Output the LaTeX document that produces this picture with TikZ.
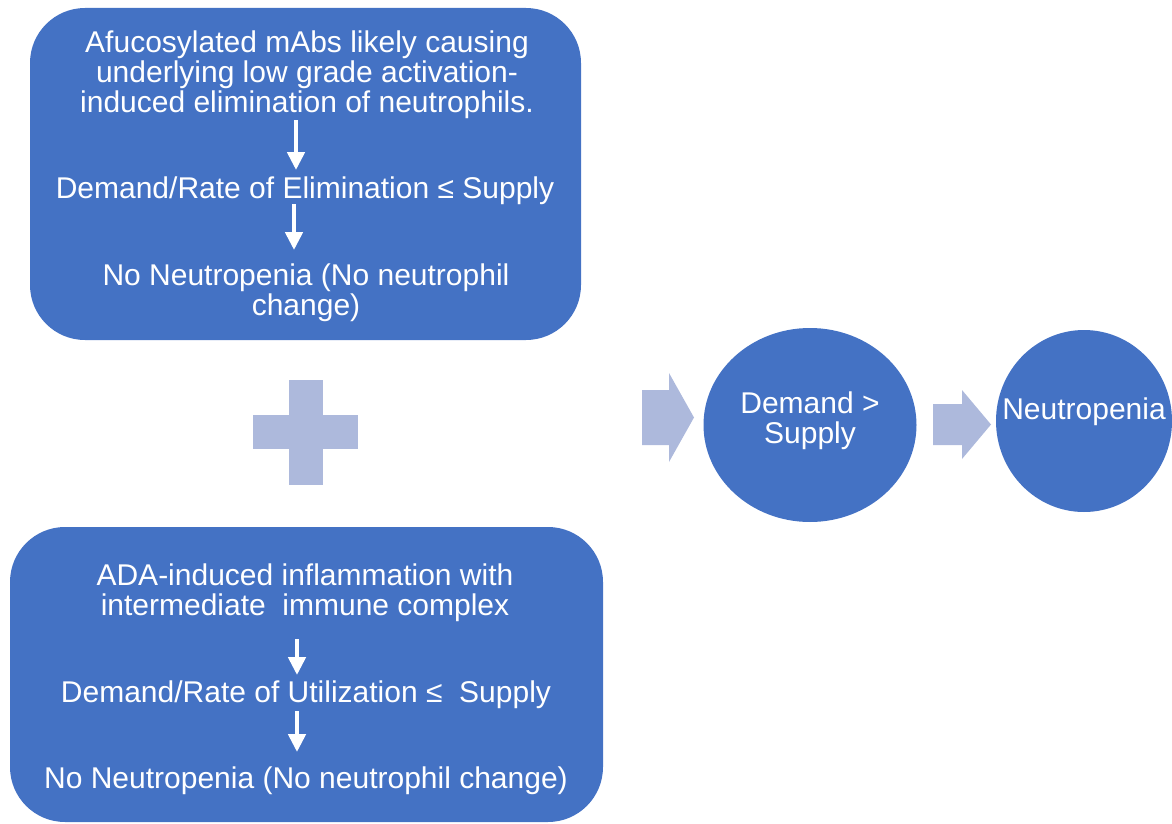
\documentclass[tikz,border=0pt]{standalone}
\usepackage{fontspec}
\setmainfont{Liberation Sans}
\usetikzlibrary{arrows.meta,shapes.geometric}
\definecolor{boxblue}{HTML}{4472C4}
\definecolor{lightb}{HTML}{ADB9DC}
\begin{document}
\begin{tikzpicture}[x=1pt,y=-1pt,
  panel/.style={fill=boxblue,rounded corners=55pt,inner sep=0pt,draw=none},
  blob/.style={ellipse,fill=boxblue,inner sep=0pt,draw=none},
  txt/.style={text=white,font=\fontsize{30}{30}\selectfont,align=center,inner sep=0pt,anchor=base},
  wdown/.style={draw=white,line width=4.5pt,-{Triangle[width=17pt,length=18pt]}},
  blockarrow/.style={fill=lightb,draw=none}
]
\useasboundingbox (0,0) rectangle (1172,824);
% panels
\node[panel,minimum width=551pt,minimum height=332pt] (top) at (305.5,174) {};
\node[panel,minimum width=593pt,minimum height=295pt] (bot) at (306.5,674.5) {};
% circles
\node[blob,minimum width=213pt,minimum height=194pt] (c1) at (810,425) {};
\node[blob,minimum width=176pt,minimum height=182pt] (c2) at (1084,421) {};
% top panel text (base anchor = baseline of last line)
\node[txt] (t1) at (307,113) {Afucosylated mAbs likely causing\\underlying low grade activation-\\induced elimination of neutrophils.};
\node[txt] (t2) at (305,198) {Demand/Rate of Elimination ≤ Supply};
\node[txt] (t3) at (306,315) {No Neutropenia (No neutrophil\\change)};
% bottom panel text
\node[txt] (b1) at (305,615) {ADA-induced inflammation with\\intermediate\ \ immune complex};
\node[txt] (b2) at (306,702) {Demand/Rate of Utilization ≤\ \ Supply};
\node[txt] (b3) at (306,788) {No Neutropenia (No neutrophil change)};
% circle text
\node[txt] (d1) at (810,443) {Demand >\\Supply};
\node[txt] (n1) at (1084,419) {Neutropenia};
% white arrows
\coordinate (ax1) at (296,0);
\coordinate (ax2) at (294,0);
\coordinate (bx1) at (297,0);
\coordinate (bx2) at (297,0);
\draw[wdown,shorten <=1pt,shorten >=6pt] (t1.south -| ax1) -- (t2.north -| ax1);
\draw[wdown,shorten <=0pt,shorten >=13pt] (t2.south -| ax2) -- (t3.north -| ax2);
\draw[wdown,shorten <=18pt,shorten >=5pt] (b1.south -| bx1) -- (b2.north -| bx1);
\draw[wdown,shorten <=3pt,shorten >=14pt] (b2.south -| bx2) -- (b3.north -| bx2);
% plus
\fill[blockarrow] (253,415) rectangle (358,449);
\fill[blockarrow] (289,380) rectangle (323,485);
% block arrows
\fill[blockarrow] (642,390) -- (669,390) -- (669,373) -- (694,417.5) -- (669,462) -- (669,445) -- (642,445) -- cycle;
\fill[blockarrow] (933,404) -- (962,404) -- (962,390) -- (991,424.5) -- (962,459) -- (962,445) -- (933,445) -- cycle;
\end{tikzpicture}
\end{document}
